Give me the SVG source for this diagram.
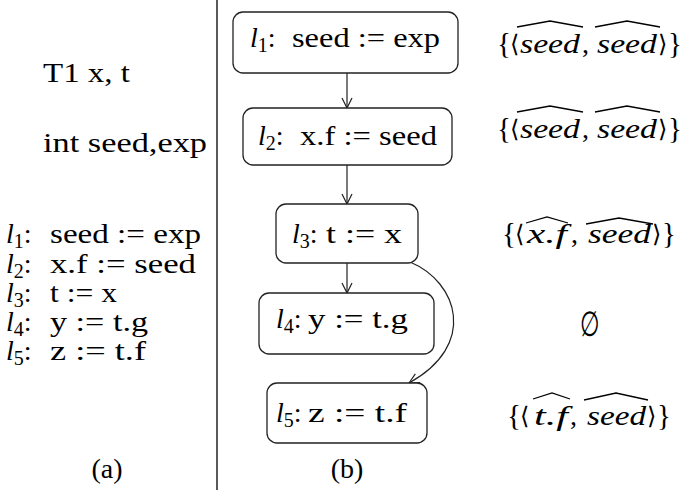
<svg xmlns="http://www.w3.org/2000/svg" width="684" height="492" viewBox="0 0 684 492" font-family="'Liberation Serif', 'Times New Roman', serif">
<defs>
<style>
text{font-family:"Liberation Serif","Times New Roman",Tinos,serif;font-size:28px;fill:#000}
.it{font-style:italic}
.sub{font-size:20px}
.box{fill:#fff;stroke:#222;stroke-width:1.3}
.edge{fill:none;stroke:#222;stroke-width:1.2}
.hat{fill:none;stroke:#000;stroke-width:1.3}
.ang{font-family:"DejaVu Serif","Liberation Serif",serif;font-size:24px}
.cb{font-size:29px}
</style>
<marker id="ah" viewBox="0 0 12 12" refX="11" refY="6" markerWidth="12" markerHeight="12" markerUnits="userSpaceOnUse" orient="auto">
<path d="M1,1 L11,6 L1,11" fill="none" stroke="#222" stroke-width="1.2"/>
</marker>
</defs>
<rect width="684" height="492" fill="#fff"/>

<line x1="217" y1="0" x2="217" y2="490" stroke="#000" stroke-width="1.3"/>

<g id="program">
<text x="43" y="82" textLength="87" lengthAdjust="spacingAndGlyphs">T1 x, t</text>
<text x="43" y="152" textLength="164" lengthAdjust="spacingAndGlyphs">int seed,exp</text>
<text x="6" y="243"><tspan class="it">l</tspan><tspan class="sub" dy="5">1</tspan><tspan dy="-5">:</tspan></text>
<text x="50" y="243" textLength="151" lengthAdjust="spacingAndGlyphs">seed := exp</text>
<text x="6" y="273"><tspan class="it">l</tspan><tspan class="sub" dy="5">2</tspan><tspan dy="-5">:</tspan></text>
<text x="50" y="273" textLength="146" lengthAdjust="spacingAndGlyphs">x.f := seed</text>
<text x="6" y="302"><tspan class="it">l</tspan><tspan class="sub" dy="5">3</tspan><tspan dy="-5">:</tspan></text>
<text x="50" y="302" textLength="67" lengthAdjust="spacingAndGlyphs">t := x</text>
<text x="6" y="331"><tspan class="it">l</tspan><tspan class="sub" dy="5">4</tspan><tspan dy="-5">:</tspan></text>
<text x="50" y="331" textLength="98" lengthAdjust="spacingAndGlyphs">y := t.g</text>
<text x="6" y="360"><tspan class="it">l</tspan><tspan class="sub" dy="5">5</tspan><tspan dy="-5">:</tspan></text>
<text x="50" y="360" textLength="96" lengthAdjust="spacingAndGlyphs">z := t.f</text>
<text x="107" y="478" text-anchor="middle">(a)</text>
</g>

<g id="connectors">
<line class="edge" x1="347" y1="73" x2="347" y2="108" marker-end="url(#ah)"/>
<line class="edge" x1="347" y1="165" x2="347" y2="204" marker-end="url(#ah)"/>
<line class="edge" x1="347" y1="263" x2="347" y2="293" marker-end="url(#ah)"/>
<path class="edge" d="M410,262 C458,282 478,345 409,383" marker-end="url(#ah)"/>
</g>

<g id="n1">
<rect class="box" x="233" y="12" width="225" height="61" rx="10"/>
<text x="250" y="47"><tspan class="it">l</tspan><tspan class="sub" dy="5">1</tspan><tspan dy="-5">:</tspan></text>
<text x="292" y="47" textLength="148" lengthAdjust="spacingAndGlyphs">seed := exp</text>
</g>
<g id="n2">
<rect class="box" x="243" y="108" width="209" height="57" rx="10"/>
<text x="258" y="145"><tspan class="it">l</tspan><tspan class="sub" dy="5">2</tspan><tspan dy="-5">:</tspan></text>
<text x="300" y="145" textLength="137" lengthAdjust="spacingAndGlyphs">x.f := seed</text>
</g>
<g id="n3">
<rect class="box" x="276" y="204" width="142" height="59" rx="10"/>
<text x="292" y="243"><tspan class="it">l</tspan><tspan class="sub" dy="5">3</tspan><tspan dy="-5">:</tspan></text>
<text x="326" y="243" textLength="76" lengthAdjust="spacingAndGlyphs">t := x</text>
</g>
<g id="n4">
<rect class="box" x="259" y="293" width="175" height="61" rx="10"/>
<text x="276" y="328"><tspan class="it">l</tspan><tspan class="sub" dy="5">4</tspan><tspan dy="-5">:</tspan></text>
<text x="308" y="328" textLength="100" lengthAdjust="spacingAndGlyphs">y := t.g</text>
</g>
<g id="n5">
<rect class="box" x="267" y="383" width="160" height="60" rx="10"/>
<text x="276" y="422"><tspan class="it">l</tspan><tspan class="sub" dy="5">5</tspan><tspan dy="-5">:</tspan></text>
<text x="308" y="422" textLength="99" lengthAdjust="spacingAndGlyphs">z := t.f</text>
</g>

<g id="sets">
<g id="s1">
<text class="cb" x="497" y="53">{</text>
<text class="ang" x="510" y="52">⟨</text>
<text class="it" x="520" y="53" textLength="60" lengthAdjust="spacingAndGlyphs">seed</text>
<text x="582" y="53">,</text>
<text class="it" x="597" y="53" textLength="60" lengthAdjust="spacingAndGlyphs">seed</text>
<text class="ang" x="658" y="52">⟩</text>
<text class="cb" x="668" y="53">}</text>
<path class="hat" d="M517,27 L550,21 L583,27"/>
<path class="hat" d="M595,27 L627,21 L660,27"/>
</g>
<g id="s2">
<text class="cb" x="497" y="138">{</text>
<text class="ang" x="510" y="137">⟨</text>
<text class="it" x="520" y="138" textLength="60" lengthAdjust="spacingAndGlyphs">seed</text>
<text x="582" y="138">,</text>
<text class="it" x="597" y="138" textLength="60" lengthAdjust="spacingAndGlyphs">seed</text>
<text class="ang" x="658" y="137">⟩</text>
<text class="cb" x="668" y="138">}</text>
<path class="hat" d="M517,112 L550,106 L583,112"/>
<path class="hat" d="M595,112 L627,106 L660,112"/>
</g>
<g id="s3">
<text class="cb" x="502" y="243">{</text>
<text class="ang" x="515" y="242">⟨</text>
<text class="it" x="527" y="243" textLength="40" lengthAdjust="spacingAndGlyphs">x.f</text>
<text x="571" y="243">,</text>
<text class="it" x="588" y="243" textLength="63" lengthAdjust="spacingAndGlyphs">seed</text>
<text class="ang" x="652" y="242">⟩</text>
<text class="cb" x="662" y="243">}</text>
<path class="hat" d="M526,223 L547,217 L568,223"/>
<path class="hat" d="M586,224 L619,218 L653,224"/>
</g>
<text id="s4" x="0" y="0" text-anchor="middle" font-size="30" transform="translate(590,336) scale(0.8,1.25)">∅</text>
<g id="s5">
<text class="cb" x="507" y="425">{</text>
<text class="ang" x="520" y="424">⟨</text>
<text class="it" x="534" y="425" textLength="34" lengthAdjust="spacingAndGlyphs">t.f</text>
<text x="570" y="425">,</text>
<text class="it" x="587" y="425" textLength="59" lengthAdjust="spacingAndGlyphs">seed</text>
<text class="ang" x="647" y="424">⟩</text>
<text class="cb" x="657" y="425">}</text>
<path class="hat" d="M533,399 L552,393 L570,399"/>
<path class="hat" d="M584,400 L616,393 L648,400"/>
</g>
</g>
<text x="347" y="478" text-anchor="middle">(b)</text>
</svg>
